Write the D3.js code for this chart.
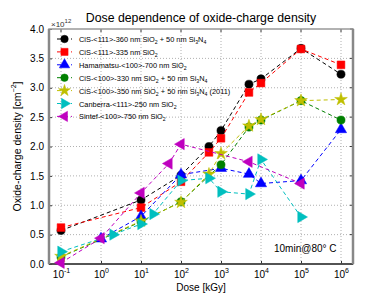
<!DOCTYPE html>
<html>
<head>
<meta charset="utf-8">
<script src="https://cdn.jsdelivr.net/npm/d3@7"></script>
<style>
  body { margin: 0; background: #fff; }
  text { font-family: "Liberation Sans", Arial, sans-serif; }
</style>
</head>
<body>
<div id="chart"></div>
<script>
// series data (dose in kGy, density in 1e12 cm^-2)
const doseCis111N = [0.1, 10, 100, 500, 1000, 5000, 1e4, 1e5, 1e6];
const valCis111N  = [0.57, 1.09, 1.51, 2.0, 2.27, 3.06, 3.15, 3.67, 3.23];

const doseCis111 = [0.1, 10, 100, 500, 1000, 5000, 1e4, 1e5, 1e6];
const valCis111  = [0.62, 0.96, 1.40, 1.90, 2.14, 2.92, 3.08, 3.66, 3.39];

const doseHama = [1, 10, 100, 1000, 5000, 1e4, 1e5, 1e6];
const valHama  = [0.43, 0.81, 1.52, 1.63, 1.53, 1.37, 1.42, 2.29];

const doseCis100N = [0.1, 10, 100, 1000, 5000, 1e4, 1e5, 1e6];
const valCis100N  = [0.12, 0.72, 1.06, 1.69, 2.33, 2.45, 2.78, 2.45];

const doseCis100N11 = [0.1, 10, 100, 500, 1000, 5000, 1e4, 1e5, 1e6];
const valCis100N11  = [0.13, 0.73, 1.05, 1.53, 1.88, 2.35, 2.46, 2.78, 2.80];

const doseCanb = [0.1, 2, 10, 20, 100, 500, 1000, 5000, 1e4, 1e5];
const valCanb  = [0.21, 0.50, 0.68, 0.85, 1.42, 1.46, 1.23, 1.19, 1.78, 0.80];

const doseSintef = [0.1, 1, 10, 50, 100, 5000, 1e5];
const valSintef  = [0.02, 0.44, 1.21, 1.71, 2.04, 1.74, 1.37];

const xTicks = [0.1, 1, 10, 100, 1e3, 1e4, 1e5, 1e6];
const yTicks = [0, 0.5, 1, 1.5, 2, 2.5, 3, 3.5, 4];

const series = [
  { name: ["CiS-<111>-360 nm SiO", "2", " + 50 nm Si", "3", "N", "4", ""], dose: doseCis111N, val: valCis111N, color: "#000000", sym: d3.symbolCircle, size: 52, rot: 0 },
  { name: ["CiS-<111>-335 nm SiO", "2", ""], dose: doseCis111, val: valCis111, color: "#ff0000", sym: d3.symbolSquare, size: 60, rot: 0 },
  { name: ["Hamamatsu-<100>-700 nm SiO", "2", ""], dose: doseHama, val: valHama, color: "#0000ff", sym: d3.symbolTriangle, size: 55, rot: 0 },
  { name: ["CiS-<100>-330 nm SiO", "2", " + 50 nm Si", "3", "N", "4", ""], dose: doseCis100N, val: valCis100N, color: "#008000", sym: d3.symbolCircle, size: 52, rot: 0 },
  { name: ["CiS-<100>-350 nm SiO", "2", " + 50 nm Si", "3", "N", "4", " (2011)"], dose: doseCis100N11, val: valCis100N11, color: "#bfbf00", sym: d3.symbolStar, size: 50, rot: 0 },
  { name: ["Canberra-<111>-250 nm SiO", "2", ""], dose: doseCanb, val: valCanb, color: "#00bfbf", sym: d3.symbolTriangle, size: 55, rot: 90 },
  { name: ["Sintef-<100>-750 nm SiO", "2", ""], dose: doseSintef, val: valSintef, color: "#bf00bf", sym: d3.symbolTriangle, size: 55, rot: -90 }
];

const W = 392, H = 294;
const margin = { top: 29, right: 39, bottom: 30, left: 49 };
const width = W - margin.left - margin.right,
      height = H - margin.top - margin.bottom;

const svg = d3.select("#chart").append("svg")
  .attr("width", W).attr("height", H)
  .style("display", "block");

const g = svg.append("g")
  .attr("transform", `translate(${margin.left},${margin.top})`);

const x = d3.scaleLog().domain([Math.pow(10, -1.3), Math.pow(10, 6.3)]).range([0, width]);
const y = d3.scaleLinear().domain([0, 4]).range([height, 0]);

// grid
g.append("g").selectAll("line")
  .data(xTicks).enter().append("line")
  .attr("x1", d => x(d)).attr("x2", d => x(d))
  .attr("y1", 0).attr("y2", height)
  .attr("stroke", "#b0b0b0").attr("stroke-width", 1)
  .attr("stroke-dasharray", "1,2");
g.append("g").selectAll("line")
  .data(yTicks.slice(1, -1)).enter().append("line")
  .attr("x1", 0).attr("x2", width)
  .attr("y1", d => y(d)).attr("y2", d => y(d))
  .attr("stroke", "#b0b0b0").attr("stroke-width", 1)
  .attr("stroke-dasharray", "1,2");

// axes
const yAxis = g.append("g").call(d3.axisLeft(y).tickValues(yTicks).tickFormat(d3.format(".1f")).tickSizeInner(-3).tickSizeOuter(0).tickPadding(5));
const xAxis = g.append("g").attr("transform", `translate(0,${height})`)
  .call(d3.axisBottom(x).tickValues(xTicks).tickFormat("").tickSizeInner(-3).tickSizeOuter(0));
[yAxis, xAxis].forEach(a => {
  a.select(".domain").remove();
  a.selectAll("line").attr("stroke", "#333");
});
yAxis.selectAll("text").style("font-size", "10px").attr("fill", "#000");

xAxis.selectAll(".tick").each(function (d) {
  const t = d3.select(this).append("text")
    .attr("y", 14).attr("text-anchor", "middle")
    .attr("fill", "#000").style("font-size", "10px");
  t.append("tspan").text("10");
  t.append("tspan").attr("dy", -5).style("font-size", "7px").text(Math.round(Math.log10(d)));
});

// right and top ticks
g.append("g").selectAll("line").data(yTicks).enter().append("line")
  .attr("x1", width).attr("x2", width - 3)
  .attr("y1", d => y(d)).attr("y2", d => y(d)).attr("stroke", "#333");
g.append("g").selectAll("line").data(xTicks).enter().append("line")
  .attr("x1", d => x(d)).attr("x2", d => x(d))
  .attr("y1", 0).attr("y2", 3).attr("stroke", "#333");

// box
g.append("rect").attr("width", width).attr("height", height)
  .attr("fill", "none").attr("stroke", "#999").attr("stroke-width", 1.5);
g.append("line").attr("x1", 0).attr("x2", width).attr("y1", height).attr("y2", height)
  .attr("stroke", "#333").attr("stroke-width", 1.5);
g.append("line").attr("x1", 0).attr("x2", 0).attr("y1", 0).attr("y2", height)
  .attr("stroke", "#888").attr("stroke-width", 2.5);
g.append("line").attr("x1", width).attr("x2", width).attr("y1", 0).attr("y2", height)
  .attr("stroke", "#888").attr("stroke-width", 2.5);

// lines and markers
const line = d3.line().x(d => x(d[0])).y(d => y(d[1]));
series.forEach(s => {
  const pts = s.dose.map((d, i) => [d, s.val[i]]);
  g.append("path").datum(pts)
    .attr("d", line)
    .attr("fill", "none").attr("stroke", s.color)
    .attr("stroke-width", 1).attr("stroke-dasharray", "4,3");
  g.append("g").selectAll("path").data(pts).enter().append("path")
    .attr("d", d3.symbol().type(s.sym).size(s.size))
    .attr("transform", d => `translate(${x(d[0])},${y(d[1])}) rotate(${s.rot})`)
    .attr("fill", s.color).attr("stroke", s.color).attr("stroke-width", 0.5);
});

// legend
const leg = g.append("g").attr("transform", "translate(8,10)");
series.forEach((s, i) => {
  const row = leg.append("g").attr("transform", `translate(0,${i * 12.9})`);
  row.append("line").attr("x1", 0).attr("x2", 15).attr("y1", 0).attr("y2", 0)
    .attr("stroke", s.color).attr("stroke-dasharray", "4,3");
  row.append("path")
    .attr("d", d3.symbol().type(s.sym).size(s.size * 0.85))
    .attr("transform", `translate(7.5,0) rotate(${s.rot})`)
    .attr("fill", s.color).attr("stroke", s.color).attr("stroke-width", 0.5);
  const t = row.append("text").attr("x", 22).attr("y", 3)
    .style("font-size", "7.4px").attr("fill", "#000");
  s.name.forEach((part, j) => {
    if (j % 2 === 1) {
      t.append("tspan").attr("dy", 2).style("font-size", "5.2px").text(part);
    } else {
      t.append("tspan").attr("dy", j === 0 ? 0 : -2).text(part);
    }
  });
});

// title
svg.append("text").attr("x", margin.left + width / 2).attr("y", 22)
  .attr("text-anchor", "middle").style("font-size", "12.3px").attr("fill", "#000")
  .text("Dose dependence of oxide-charge density");

// exponent label
const ex = svg.append("text").attr("x", margin.left + 2).attr("y", 27)
  .style("font-size", "8px").attr("fill", "#333");
ex.append("tspan").text("×10");
ex.append("tspan").attr("dy", -4).style("font-size", "6px").text("12");

// y label
const yl = svg.append("text")
  .attr("transform", `translate(21,${margin.top + height / 2}) rotate(-90)`)
  .attr("text-anchor", "middle").style("font-size", "10.5px").attr("fill", "#000");
yl.append("tspan").text("Oxide-charge density [cm");
yl.append("tspan").attr("dy", -5).style("font-size", "7px").text("−2");
yl.append("tspan").attr("dy", 5).text("]");

// x label
svg.append("text").attr("x", margin.left + width / 2).attr("y", 291)
  .attr("text-anchor", "middle").style("font-size", "10px").attr("fill", "#000")
  .text("Dose [kGy]");

// annotation
svg.append("text").attr("x", 274).attr("y", 252)
  .style("font-size", "10px").attr("fill", "#000")
  .text("10min@80° C");
</script>
</body>
</html>
